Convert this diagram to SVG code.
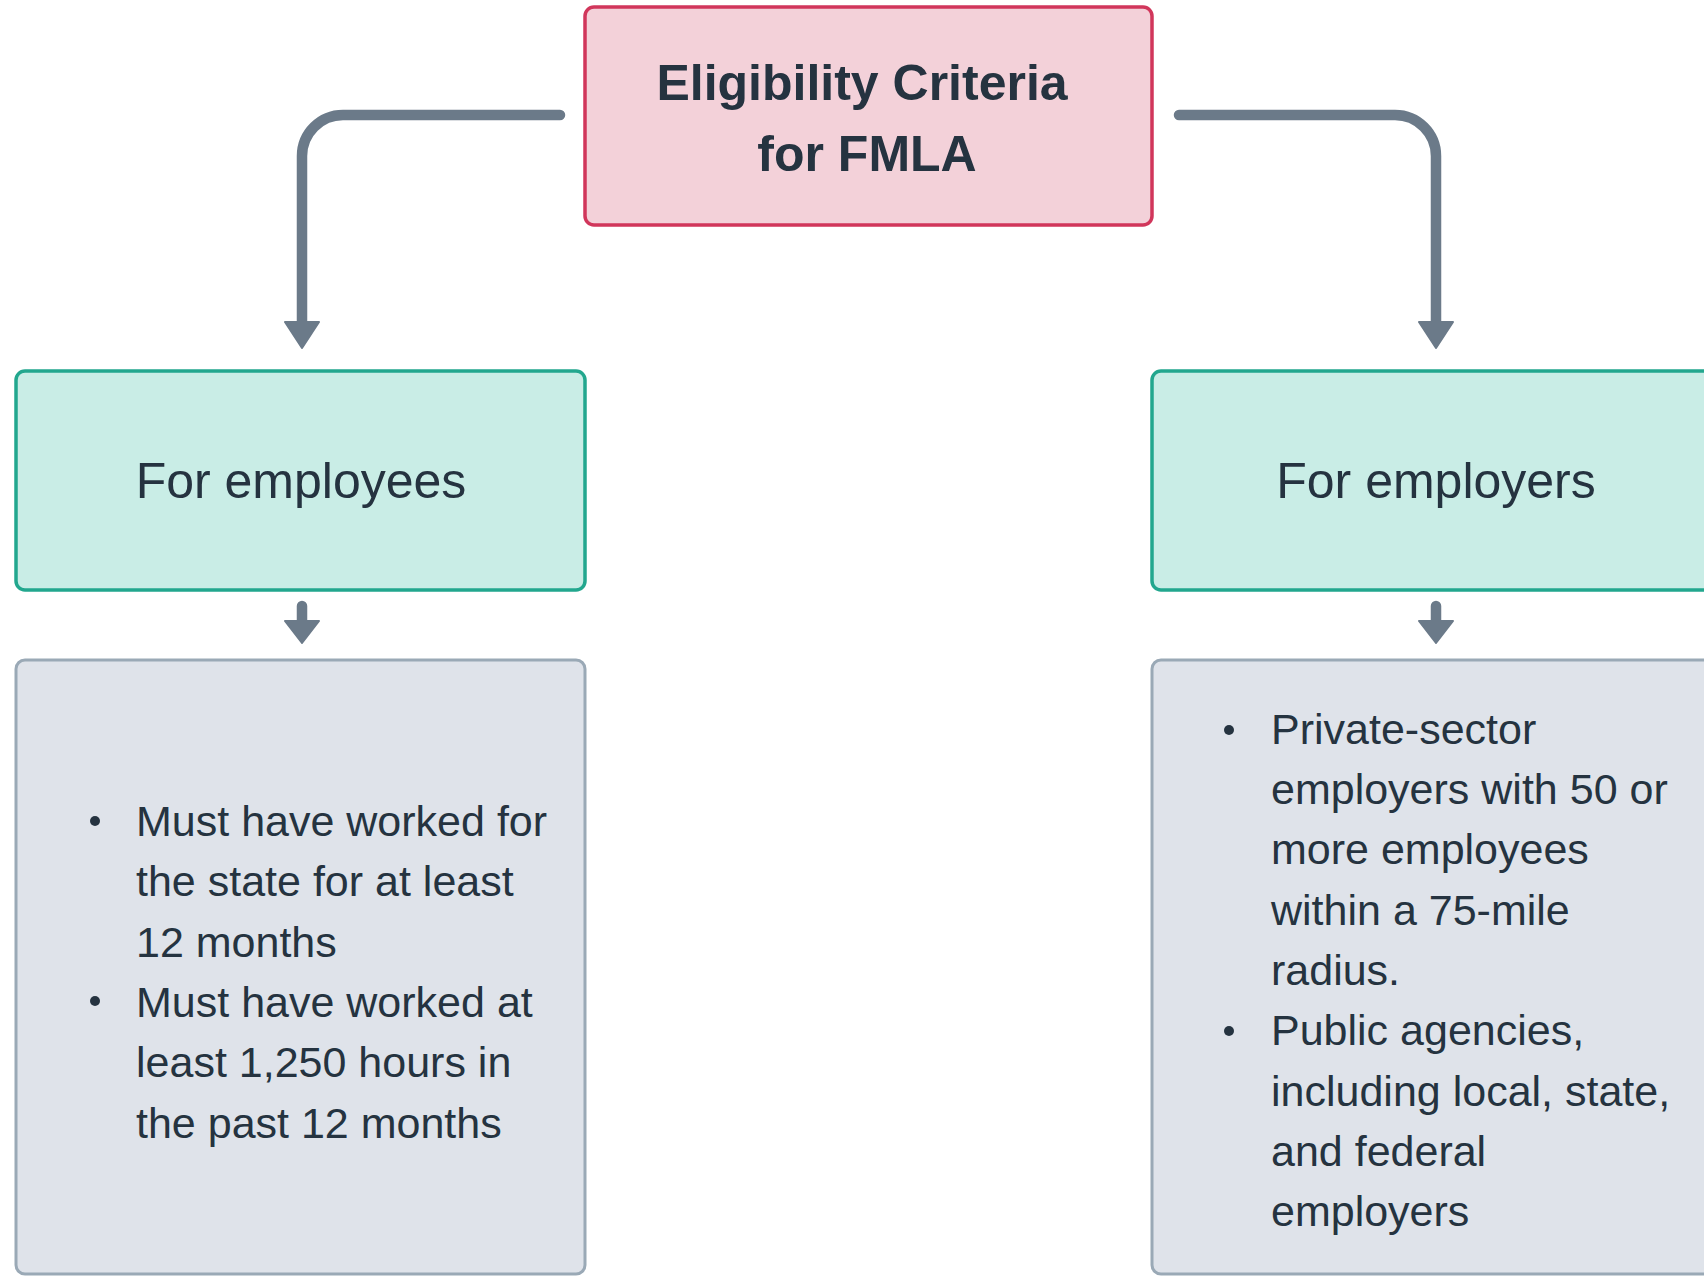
<svg xmlns="http://www.w3.org/2000/svg" width="1704" height="1277" viewBox="0 0 1704 1277">
  <style>
    .txt { font-family: "Liberation Sans", Arial, sans-serif; fill: #253340; }
    .title { font-size: 50px; font-weight: bold; text-anchor: middle; }
    .label { font-size: 50px; text-anchor: middle; }
    .item { font-size: 43px; }
    .root { fill: #f3d1d9; stroke: #d1365b; stroke-width: 3.5; }
    .branch { fill: #c9ede6; stroke: #22a78e; stroke-width: 3.5; }
    .detail { fill: #dfe3ea; stroke: #9aa9b6; stroke-width: 3; }
    .edge { fill: none; stroke: #6b7a89; stroke-width: 10.5; stroke-linecap: round; }
    .bullet { fill: #253340; }
  </style>
  <defs>
    <marker id="arrow" viewBox="0 0 28 38" refX="1" refY="19" markerWidth="28" markerHeight="38" orient="auto" markerUnits="userSpaceOnUse">
      <path d="M1,2 L27,19 L1,36 Z" fill="#6b7a89" stroke="#6b7a89" stroke-width="2" stroke-linejoin="round"/>
    </marker>
    <marker id="arrow-sm" viewBox="0 0 24 38" refX="1" refY="19" markerWidth="24" markerHeight="38" orient="auto" markerUnits="userSpaceOnUse">
      <path d="M1,2 L23,19 L1,36 Z" fill="#6b7a89" stroke="#6b7a89" stroke-width="2" stroke-linejoin="round"/>
    </marker>
  </defs>

  <!-- connectors -->
  <g id="connectors">
    <path class="edge" d="M560,115 H343 A41,41 0 0 0 302,156 V322" marker-end="url(#arrow)"/>
    <path class="edge" d="M1179,115 H1395 A41,41 0 0 1 1436,156 V322" marker-end="url(#arrow)"/>
    <path class="edge" d="M302,606 V621" marker-end="url(#arrow-sm)"/>
    <path class="edge" d="M1436,606 V621" marker-end="url(#arrow-sm)"/>
  </g>

  <!-- root node -->
  <g id="node-root">
    <rect class="root" x="585" y="7" width="567" height="218" rx="9"/>
    <text class="txt title" x="862" y="100">Eligibility Criteria</text>
    <text class="txt title" x="867" y="171">for FMLA</text>
  </g>

  <!-- branch nodes -->
  <g id="node-employees">
    <rect class="branch" x="16" y="371" width="569" height="219" rx="9"/>
    <text class="txt label" x="301" y="498">For employees</text>
  </g>
  <g id="node-employers">
    <rect class="branch" x="1152" y="371" width="569" height="219" rx="9"/>
    <text class="txt label" x="1436" y="498">For employers</text>
  </g>

  <!-- detail nodes -->
  <g id="node-employee-criteria">
    <rect class="detail" x="16" y="660" width="569" height="614" rx="9"/>
    <circle class="bullet" cx="95" cy="821" r="5"/>
    <circle class="bullet" cx="95" cy="1001" r="5"/>
    <text class="txt item">
      <tspan x="136" y="836">Must have worked for</tspan>
      <tspan x="136" y="896">the state for at least</tspan>
      <tspan x="136" y="957">12 months</tspan>
      <tspan x="136" y="1017">Must have worked at</tspan>
      <tspan x="136" y="1077">least 1,250 hours in</tspan>
      <tspan x="136" y="1138">the past 12 months</tspan>
    </text>
  </g>
  <g id="node-employer-criteria">
    <rect class="detail" x="1152" y="660" width="569" height="614" rx="9"/>
    <circle class="bullet" cx="1229" cy="730" r="5"/>
    <circle class="bullet" cx="1229" cy="1031" r="5"/>
    <text class="txt item">
      <tspan x="1271" y="744">Private-sector</tspan>
      <tspan x="1271" y="804">employers with 50 or</tspan>
      <tspan x="1271" y="864">more employees</tspan>
      <tspan x="1271" y="925">within a 75-mile</tspan>
      <tspan x="1271" y="985">radius.</tspan>
      <tspan x="1271" y="1045">Public agencies,</tspan>
      <tspan x="1271" y="1106">including local, state,</tspan>
      <tspan x="1271" y="1166">and federal</tspan>
      <tspan x="1271" y="1226">employers</tspan>
    </text>
  </g>
</svg>
